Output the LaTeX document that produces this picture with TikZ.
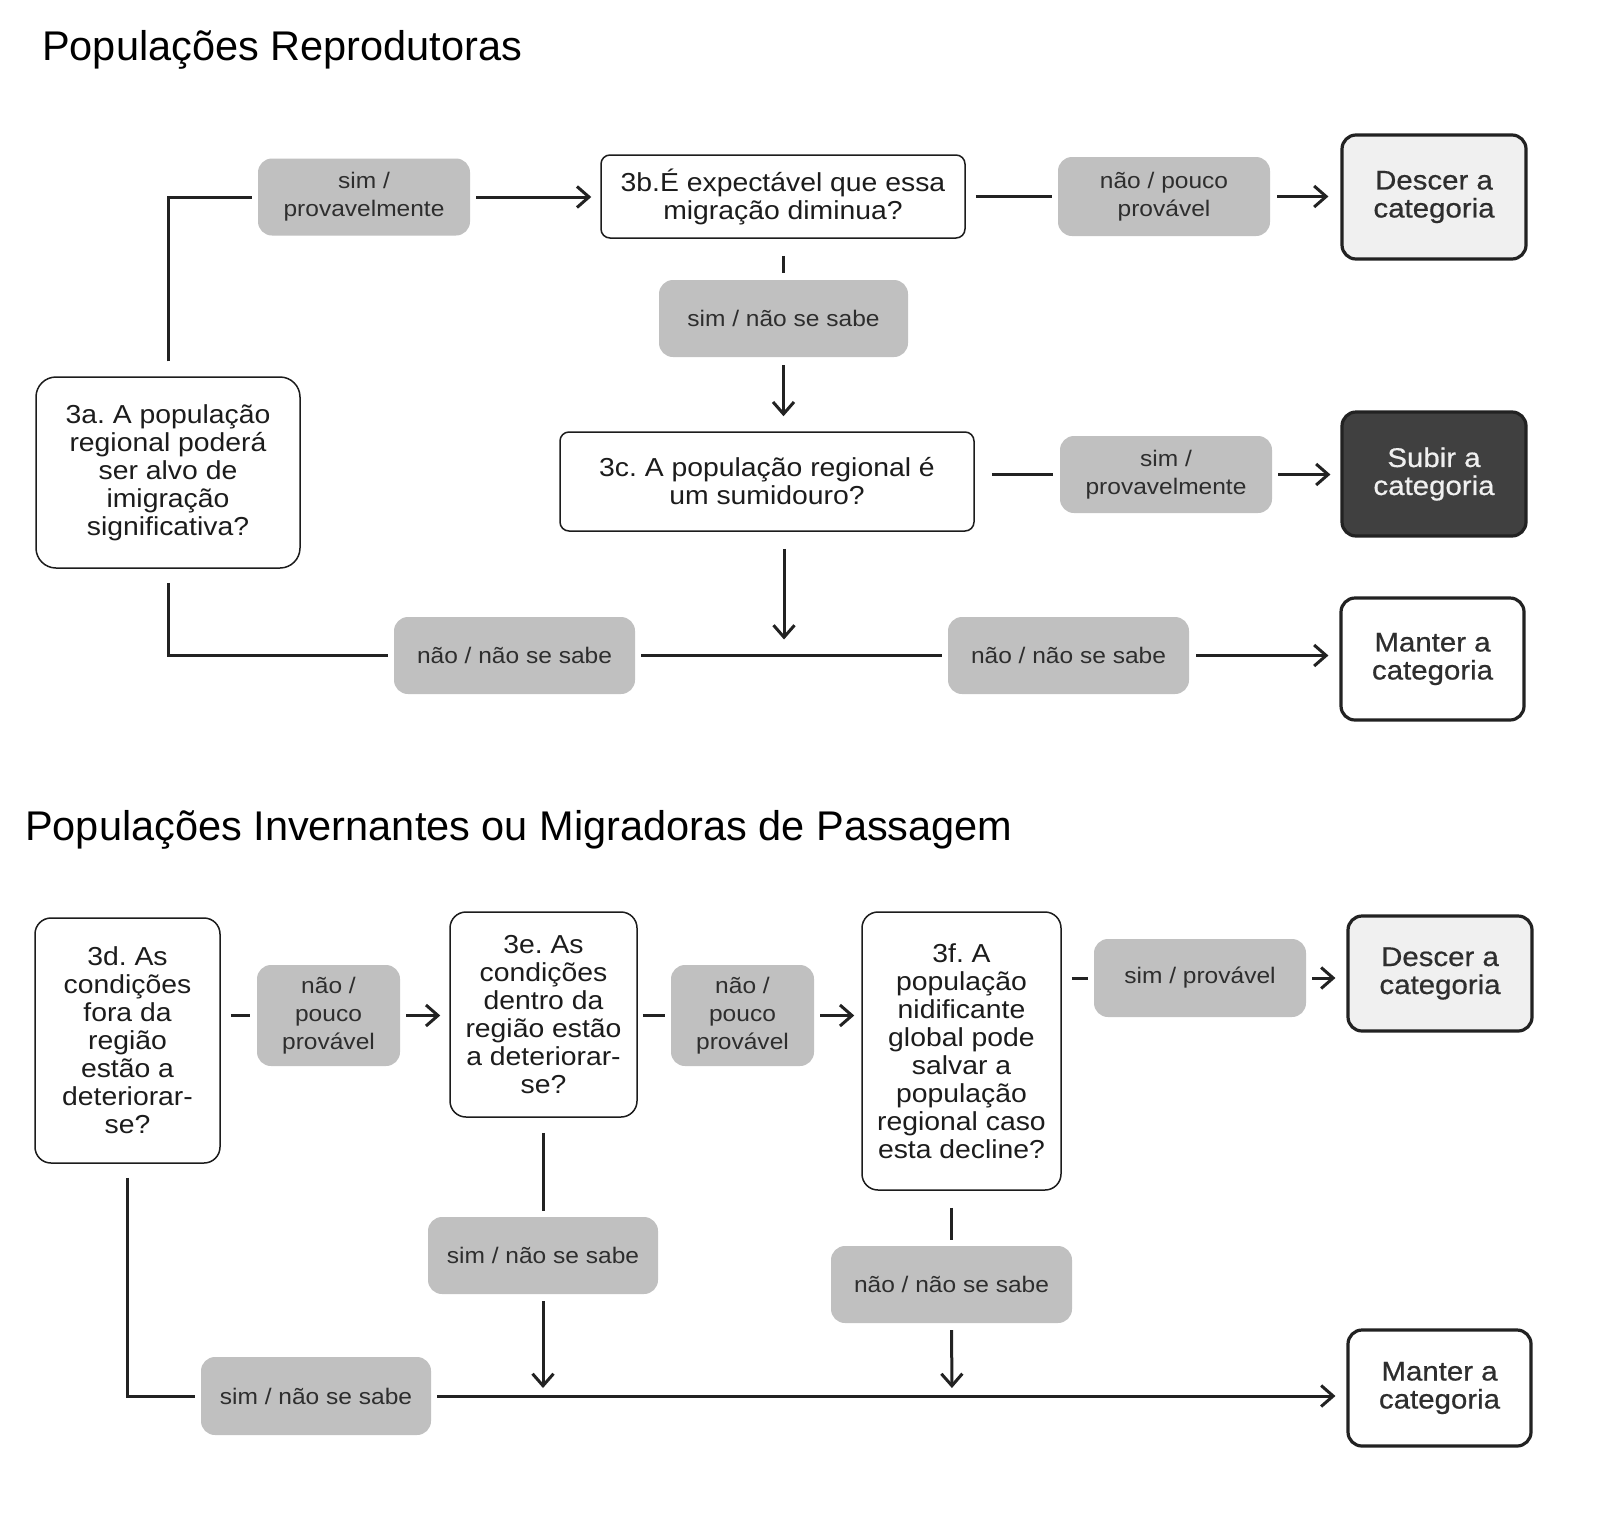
\documentclass[tikz,border=0pt]{standalone}
\usepackage{fontspec}
\setmainfont{Liberation Sans}
\newfontfamily\bodyf[FakeStretch=1.09]{Liberation Sans}
\newfontfamily\resf[FakeStretch=1.09,FakeBold=0.6]{Liberation Sans}
\usetikzlibrary{arrows.meta}
\definecolor{labgray}{HTML}{C0C0C0}
\definecolor{txtdark}{HTML}{1C1C1C}
\definecolor{txtlab}{HTML}{2E2E2E}
\definecolor{lightfill}{HTML}{F0F0F0}
\definecolor{darkfill}{HTML}{404040}
\definecolor{conncol}{HTML}{222222}
\frenchspacing
\begin{document}
\begin{tikzpicture}[x=1pt,y=-1pt,
  qbox/.style={draw=txtdark, line width=1.5pt, rounded corners=12pt, fill=white, inner sep=0pt,
    align=center, text=txtdark, font=\bodyf\fontsize{26}{28}\selectfont},
  lab/.style={fill=labgray, rounded corners=14pt, inner sep=0pt, align=center, text=txtlab,
    font=\bodyf\fontsize{22.5}{28}\selectfont},
  res/.style={draw=conncol, line width=3.2pt, rounded corners=14pt, inner sep=0pt, align=center,
    text=txtlab, font=\resf\fontsize{27}{28}\selectfont},
  ttl/.style={anchor=west, inner sep=0pt, text=black, font=\fontsize{41.5}{44}\selectfont},
  conn/.style={draw=conncol, line width=3pt},
  arr/.style={conn, -{Straight Barb[length=12pt,width=21pt]}}
]
\fill[white] (0,0) rectangle (1600,1529);

% ---------- Section 1 ----------
\node[ttl] (t1) at (42,50) {Populações Reprodutoras};

\node[qbox, rounded corners=9pt, minimum width=364pt, minimum height=83pt] (q3b) at (783,196.5)
  {3b.É expectável que essa\\migração diminua?};
\node[lab, minimum width=212pt, minimum height=77pt] (l1) at (364,197) {sim /\\provavelmente};
\node[lab, minimum width=212pt, minimum height=79pt] (l2) at (1164,196.5) {não / pouco\\provável};
\node[res, fill=lightfill, minimum width=184pt, minimum height=124pt] (r1) at (1434,197) {Descer a\\categoria};
\node[lab, minimum width=249pt, minimum height=77pt] (l3) at (783.5,318.5) {sim / não se sabe};
\node[qbox, rounded corners=9pt, minimum width=414pt, minimum height=99pt] (q3c) at (767,481.5)
  {3c. A população regional é\\um sumidouro?};
\node[lab, minimum width=212pt, minimum height=77pt] (l4) at (1166,474.5) {sim /\\provavelmente};
\node[res, fill=darkfill, text=lightfill, minimum width=184pt, minimum height=124pt] (r2) at (1434,474) {Subir a\\categoria};
\node[qbox, rounded corners=20pt, minimum width=264pt, minimum height=191pt] (q3a) at (168,472.5)
  {\raisebox{5pt}{\parbox{250pt}{\centering 3a. A população\\regional poderá\\ser alvo de\\imigração\\significativa?}}};
\node[lab, minimum width=241pt, minimum height=77pt] (l5) at (514.5,655.5) {não / não se sabe};
\node[lab, minimum width=241pt, minimum height=77pt] (l6) at (1068.5,655.5) {não / não se sabe};
\node[res, fill=white, minimum width=183pt, minimum height=122pt] (r3) at (1432.5,659) {Manter a\\categoria};
\coordinate (j1) at (784,655.5);

\draw[conn, shorten <=15pt, shorten >=6pt] (q3a.north) |- (l1.west);
\draw[arr, shorten <=6pt, shorten >=9pt] (l1.east) -- (l1.east -| q3b.west);
\draw[conn, shorten <=10pt, shorten >=6pt] (q3b.east) -- (l2.west);
\draw[arr, shorten <=7pt, shorten >=12pt] (l2.east) -- (l2.east -| r1.west);
\draw[conn, shorten <=17pt, shorten >=7pt] (l3.north |- q3b.south) -- (l3.north);
\draw[arr, shorten <=8pt, shorten >=15pt] (l3.south) -- (l3.south |- q3c.north);
\draw[conn, shorten <=17pt, shorten >=7pt] (l4.west -| q3c.east) -- (l4.west);
\draw[arr, shorten <=6pt, shorten >=10pt] (l4.east) -- (l4.east -| r2.west);
\draw[arr, shorten <=17pt, shorten >=16pt] (q3c.south -| j1) -- (j1);
\draw[conn, shorten <=14pt, shorten >=6pt] (q3a.south) |- (l5.west);
\draw[conn, shorten <=6pt, shorten >=6pt] (l5.east) -- (l6.west);
\draw[arr, shorten <=7pt, shorten >=11pt] (l6.east) -- (l6.east -| r3.west);

% ---------- Section 2 ----------
\node[ttl] (t2) at (25,830) {Populações Invernantes ou Migradoras de Passagem};

\node[qbox, rounded corners=16pt, minimum width=185pt, minimum height=245pt] (q3d) at (127.5,1040.5)
  {3d. As\\condições\\fora da\\região\\estão a\\deteriorar-\\se?};
\node[lab, minimum width=143pt, minimum height=101pt] (l7) at (328.5,1015.5) {não /\\pouco\\provável};
\node[qbox, rounded corners=16pt, minimum width=187pt, minimum height=205pt] (q3e) at (543.5,1014.5)
  {3e. As\\condições\\dentro da\\região estão\\a deteriorar-\\se?};
\node[lab, minimum width=143pt, minimum height=101pt] (l8) at (742.5,1015.5) {não /\\pouco\\provável};
\node[qbox, rounded corners=16pt, minimum width=199pt, minimum height=278pt] (q3f) at (961.5,1051)
  {3f. A\\população\\nidificante\\global pode\\salvar a\\população\\regional caso\\esta decline?};
\node[lab, minimum width=212pt, minimum height=78pt] (l9) at (1200,978) {sim / provável};
\node[res, fill=lightfill, minimum width=184pt, minimum height=115pt] (r4) at (1440,973.5) {Descer a\\categoria};
\node[lab, minimum width=230pt, minimum height=77pt] (l10) at (543,1255.5) {sim / não se sabe};
\node[lab, minimum width=241pt, minimum height=77pt] (l11) at (951.5,1284.5) {não / não se sabe};
\node[lab, minimum width=230pt, minimum height=78pt] (l12) at (316,1396) {sim / não se sabe};
\node[res, fill=white, minimum width=183pt, minimum height=116pt] (r5) at (1439.5,1388) {Manter a\\categoria};
\coordinate (j2) at (543,1396);
\coordinate (j3) at (952,1396);

\draw[conn, shorten <=10pt, shorten >=7pt] (l7.west -| q3d.east) -- (l7.west);
\draw[arr, shorten <=6pt, shorten >=9pt] (l7.east) -- (l7.east -| q3e.west);
\draw[conn, shorten <=5pt, shorten >=6pt] (l8.west -| q3e.east) -- (l8.west);
\draw[arr, shorten <=6pt, shorten >=7pt] (l8.east) -- (l8.east -| q3f.west);
\draw[conn, shorten <=10pt, shorten >=6pt] (l9.west -| q3f.east) -- (l9.west);
\draw[arr, shorten <=6pt, shorten >=11pt] (l9.east) -- (l9.east -| r4.west);
\draw[conn, shorten <=15pt, shorten >=6pt] (q3e.south -| l10.north) -- (l10.north);
\draw[arr, shorten <=7pt, shorten >=8pt] (l10.south) -- (j2);
\draw[conn, shorten <=17pt, shorten >=6pt] (l11.north |- q3f.south) -- (l11.north);
\draw[arr, shorten <=7pt, shorten >=8pt] (l11.south) -- (j3);
\draw[conn, shorten <=14pt, shorten >=6pt] (q3d.south) |- (l12.west);
\draw[arr, shorten <=6pt, shorten >=11pt] (l12.east) -- (l12.east -| r5.west);

\pgfresetboundingbox
\path[use as bounding box] (0,0) rectangle (1600,1529);
\end{tikzpicture}
\end{document}
